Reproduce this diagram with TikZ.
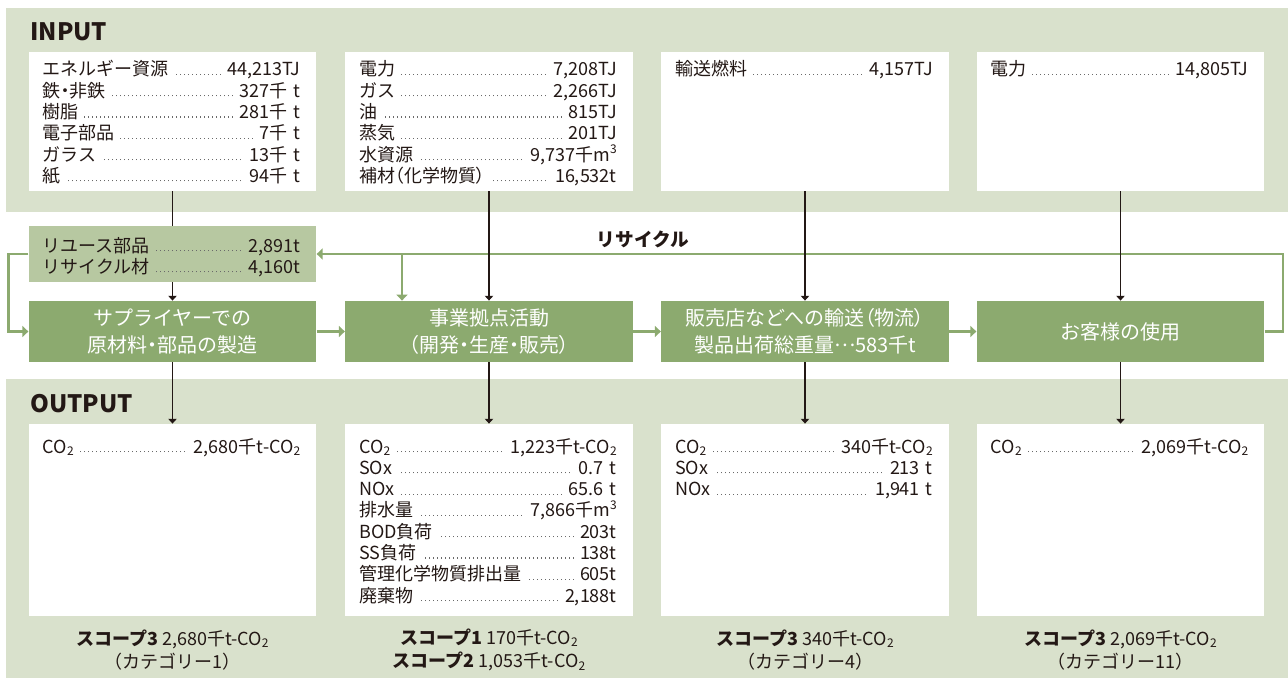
\documentclass[tikz,border=0pt]{standalone}
\usepackage{fontspec}
\setmainfont{Noto Sans CJK JP}
\usetikzlibrary{arrows.meta}
\definecolor{bandc}{HTML}{D9E1CC}
\definecolor{reusec}{HTML}{B7C8A1}
\definecolor{procc}{HTML}{8CAA6F}
\definecolor{linec}{HTML}{8CAA6F}
\definecolor{txt}{HTML}{231815}
\definecolor{dotc}{HTML}{6A6A6A}
\newcommand\lead{\leaders\hbox to 2pt{\hss\textcolor{dotc}{\rule[0.5pt]{0.55pt}{0.55pt}}\hss}\hfill}
\newcommand\rw[2]{\rule{0pt}{8pt}#1\hspace{2pt}\lead\hspace{2pt}#2\par}
\newcommand\ctwo{CO\raisebox{-0.25ex}{\fontsize{6}{6}\selectfont 2}}
\newcommand\mcube{m\raisebox{0.8ex}{\fontsize{6}{6}\selectfont 3}}
\newcommand\tightp[1]{{\addfontfeature{RawFeature={+palt}}#1}}
\begin{document}
\begin{tikzpicture}[x=0.5pt,y=-0.5pt,
  wbox/.style={fill=white,inner sep=0,minimum width=143.75pt},
  inbox/.style={wbox,minimum height=69.5pt},
  outbox/.style={wbox,minimum height=96pt},
  reusebox/.style={fill=reusec,inner sep=0,minimum width=143.75pt,minimum height=28pt},
  proc/.style={fill=procc,text=white,inner sep=0,minimum width=143.75pt,minimum height=30.5pt,align=center,font=\fontsize{10}{13.5}\selectfont},
  list/.style={inner sep=0,text width=128.75pt,text=txt,font=\fontsize{9}{10.65}\selectfont,anchor=north west},
  head/.style={inner sep=0,text=txt,font=\fontsize{12}{12}\selectfont\bfseries,anchor=west},
  scopet/.style={inner sep=0,text=txt,align=center,font=\fontsize{9}{11.75}\selectfont},
  blk/.style={draw=txt,line width=0.55pt},
  blkarrow/.style={blk,-{Triangle[length=2.4pt,width=4.2pt]}},
  gline/.style={draw=linec,line width=1.1pt,line join=miter},
  garrow/.style={gline,-{Triangle[length=3pt,width=5.5pt]}},
]
\useasboundingbox (0,0) rectangle (1288,679);
% bands
\fill[bandc] (6,8) rectangle (1288,212);
\fill[bandc] (6,379) rectangle (1288,678);
\node[head] (inlabel) at (30,32) {INPUT};
\node[head] (outlabel) at (30,403.5) {OUTPUT};

% input boxes
\node[inbox] (in1) at (172.5,121.5) {};
\node[inbox] (in2) at (489,121.5) {};
\node[inbox] (in3) at (805,121.5) {};
\node[inbox] (in4) at (1120.5,121.5) {};
\node[list] (l1) at ([xshift=7pt,yshift=-4pt]in1.north west) {%
\rw{エネルギー資源}{44,213TJ}\rw{\tightp{鉄・非鉄}}{327千 t}\rw{樹脂}{281千 t}\rw{電子部品}{7千 t}\rw{ガラス}{13千 t}\rw{紙}{94千 t}};
\node[list] (l2) at ([xshift=7pt,yshift=-4pt]in2.north west) {%
\rw{電力}{7,208TJ}\rw{ガス}{2,266TJ}\rw{油}{815TJ}\rw{蒸気}{201TJ}\rw{水資源}{9,737千\mcube}\rw{補材\tightp{（化学物質）}}{16,532t}};
\node[list] (l3) at ([xshift=7pt,yshift=-4pt]in3.north west) {\rw{輸送燃料}{4,157TJ}};
\node[list] (l4) at ([xshift=7pt,yshift=-4pt]in4.north west) {\rw{電力}{14,805TJ}};

% reuse box
\node[reusebox] (reuse) at (172.5,254) {};
\node[list] (lr) at ([xshift=7pt,yshift=-5pt]reuse.north west) {\rw{リユース部品}{2,891t}\rw{リサイクル材}{4,160t}};

% process boxes
\node[proc] (pA) at (172.5,331.5) {サプライヤーでの\\\tightp{原材料・部品}の製造};
\node[proc] (pB) at (489,331.5) {事業拠点活動\\\tightp{（開発・生産・販売）}};
\node[proc] (pC) at (805,331.5) {販売店などへの輸送\tightp{（物流）}\\製品出荷総重量\raisebox{0.3em}{…}583千t};
\node[proc] (pD) at (1120.5,331.5) {お客様の使用};

% output boxes
\node[outbox] (out1) at (172.5,520) {};
\node[outbox] (out2) at (489,520) {};
\node[outbox] (out3) at (805,520) {};
\node[outbox] (out4) at (1120.5,520) {};
\node[list] (o1) at ([xshift=7pt,yshift=-6.5pt]out1.north west) {\rw{\ctwo}{2,680千t-\ctwo}};
\node[list] (o2) at ([xshift=7pt,yshift=-6.5pt]out2.north west) {%
\rw{\ctwo}{1,223千t-\ctwo}\rw{SOx}{0.7 t}\rw{NOx}{65.6 t}\rw{排水量}{7,866千\mcube}\rw{BOD負荷}{203t}\rw{SS負荷}{138t}\rw{管理化学物質排出量}{605t}\rw{廃棄物}{2,188t}};
\node[list] (o3) at ([xshift=7pt,yshift=-6.5pt]out3.north west) {%
\rw{\ctwo}{340千t-\ctwo}\rw{SOx}{213 t}\rw{NOx}{1,941 t}};
\node[list] (o4) at ([xshift=7pt,yshift=-6.5pt]out4.north west) {\rw{\ctwo}{2,069千t-\ctwo}};

% scope texts
\node[scopet] (s1) at (172.5,650) {{\bfseries スコープ3} 2,680千t-\ctwo\\（カテゴリー1）};
\node[scopet] (s2) at (489,650) {{\bfseries スコープ1} 170千t-\ctwo\\{\bfseries スコープ2} 1,053千t-\ctwo};
\node[scopet] (s3) at (805,650) {{\bfseries スコープ3} 340千t-\ctwo\\（カテゴリー4）};
\node[scopet] (s4) at (1120.5,650) {{\bfseries スコープ3} 2,069千t-\ctwo\\（カテゴリー11）};

% recycle loop
\coordinate (rc) at (1283,254);
\coordinate (rb) at (402,254);
\coordinate (lc) at (8.5,254);
\draw[garrow] (pD.east) -| (rc) -- (reuse.east);
\draw[garrow] (rb) -- (rb |- pB.north);
\draw[garrow] (reuse.west) -- (lc) |- (pA.west);
\node[inner sep=0,text=txt,font=\fontsize{9.3}{10}\selectfont\bfseries] (rl) at (643,239) {リサイクル};

% process flow
\draw[garrow] (pA.east) -- (pB.west);
\draw[garrow] (pB.east) -- (pC.west);
\draw[garrow] (pC.east) -- (pD.west);

% black connectors
\draw[blk] (in1.south) -- (reuse.north);
\draw[blkarrow] (reuse.south) -- (pA.north);
\draw[blkarrow] (in2.south) -- (pB.north);
\draw[blkarrow] (in3.south) -- (pC.north);
\draw[blkarrow] (in4.south) -- (pD.north);
\draw[blkarrow] (pA.south) -- (out1.north);
\draw[blkarrow] (pB.south) -- (out2.north);
\draw[blkarrow] (pC.south) -- (out3.north);
\draw[blkarrow] (pD.south) -- (out4.north);
\end{tikzpicture}
\end{document}
